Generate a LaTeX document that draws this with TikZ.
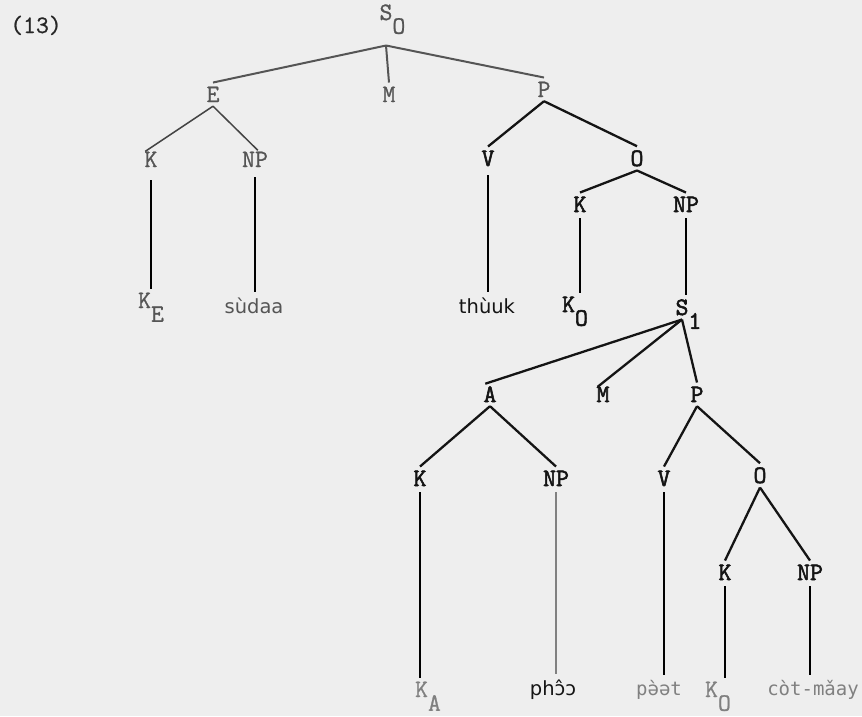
\documentclass[tikz,border=0pt]{standalone}
\usepackage{fontspec}
\newfontfamily\labfont{Latin Modern Mono}[FakeBold=0.9]
\newfontfamily\labbfont{Latin Modern Mono}[FakeBold=2.2]
\newfontfamily\wordfont{DejaVu Sans}
\newfontfamily\wordmono{DejaVu Sans Mono}
% subscript set at full size, dropped below the baseline
\newcommand\lowsub[1]{\raisebox{-0.55em}{#1}}
% same, but taking no room (the node keeps the size of the main letter)
\newcommand\lowsubr[1]{\rlap{\smash{\raisebox{-0.55em}{#1}}}}
\definecolor{paper}{HTML}{EEEEEE}
\definecolor{inkgrey}{HTML}{555555}
\definecolor{inkblack}{HTML}{141414}
\definecolor{inkpale}{HTML}{808080}
\tikzset{
  lab/.style={font={\fontsize{25pt}{27pt}\selectfont\labfont}, anchor=base,
    inner xsep=1pt, inner ysep=4pt},
  labg/.style={lab, text=inkgrey},
  labb/.style={lab, text=inkblack, font={\fontsize{25pt}{27pt}\selectfont\labbfont}},
  labp/.style={lab, text=inkpale},
  word/.style={font={\fontsize{19.5pt}{21pt}\selectfont\wordfont}, anchor=base,
    inner xsep=1pt, inner ysep=5pt},
  wordm/.style={font={\fontsize{19pt}{21pt}\selectfont\wordmono}, anchor=base,
    inner xsep=1pt, inner ysep=5pt},
  fang/.style={draw=inkgrey, line width=2pt},
  thing/.style={draw=inkgrey!80!black, line width=1.5pt},
  edgeb/.style={draw=inkblack, line width=2.3pt},
  stemb/.style={draw=black, line width=2.8pt, shorten <=2pt},
  stemg/.style={draw=inkpale, line width=1.6pt, shorten <=2pt},
}
\begin{document}
\begin{tikzpicture}[x=1pt,y=-1pt]
  \fill[paper] (0,0) rectangle (862,716);
  \useasboundingbox (0,0) rectangle (862,716);

  \node[lab, text=black!85] (num) at (36,33) {(13)};

  % main clause S0
  \node[labg] (So) at (386,20) {S\lowsubr{O}};
  \coordinate (So-j) at ([yshift=-21pt]So.south);
  \node[labg] (E) at (213,102) {E};
  \node[labg] (M) at (389,102) {M};
  \node[labg] (P) at (544,97) {P};

  \node[labg] (EK) at (151,167) {K};
  \node[labg] (ENP) at (255,167) {NP};
  \node[labg] (KE) at (151,308) {K\lowsub{E}};
  \node[word, text=inkgrey] (sudaa) at (254,313) {sùdaa};

  \node[labb] (PV) at (488,166) {V};
  \node[labb] (PO) at (637,166) {O};
  \node[word, text=inkblack] (thuuk) at (487,313) {thùuk};
  \node[labb] (OK) at (580,212) {K};
  \node[labb] (ONP) at (686,212) {NP};
  \node[labb] (KO) at (575,312) {K\lowsub{O}};
  \node[labb] (S1) at (682,315) {S\lowsubr{1}};

  % embedded clause S1
  \node[labb] (A) at (490,402) {A};
  \node[labb] (M2) at (603,402) {M};
  \node[labb] (P2) at (697,402) {P};
  \node[labb] (AK) at (420,486) {K};
  \node[labb] (ANP) at (556,486) {NP};
  \node[labb] (PV2) at (664,486) {V};
  \node[labb] (PO2) at (760,483) {O};
  \node[labb] (OK2) at (725,580) {K};
  \node[labb] (ONP2) at (810,580) {NP};

  \node[labp] (KA) at (428,697) {K\lowsub{A}};
  \node[word, text=inkblack] (pho) at (553,695) {phɔ^^^^0302ɔ};
  \node[wordm, text=inkpale] (paet) at (659,695) {pə^^^^0300ət};
  \node[labp] (KO2) at (718,697) {K\lowsub{O}};
  \node[wordm, text=inkpale] (cot) at (813,695) {còt-mǎay};

  % branches of S0
  \draw[fang] (So-j) -- (E.north);
  \draw[fang] (So-j) -- (M.north);
  \draw[fang] (So-j) -- (P.north);
  \draw[thing, shorten >=-7pt] (E.south) -- (EK.north);
  \draw[thing, shorten >=-4pt] (E.south) -- (ENP.north);
  \draw[stemb, shorten <=9pt] (EK.south) -- (EK.south |- KE.north);
  \draw[stemb, shorten <=6pt] (ENP.south) -- (ENP.south |- sudaa.north);
  \draw[edgeb] (P.south) -- (PV.north);
  \draw[edgeb] (P.south) -- (PO.north);
  \draw[stemb, shorten <=5pt] (PV.south) -- (PV.south |- thuuk.north);
  \draw[edgeb] (PO.south) -- (OK.north);
  \draw[edgeb] (PO.south) -- (ONP.north);
  \draw[stemb] (OK.south) -- (OK.south |- KO.north);
  \draw[stemb] (ONP.south) -- (ONP.south |- S1.north);

  % branches of S1
  \draw[edgeb, shorten >=-5pt] (S1.south) -- (A.north);
  \draw[edgeb, shorten >=-7pt] (S1.south) -- (M2.north);
  \draw[edgeb] (S1.south) -- (P2.north);
  \draw[edgeb] (A.south) -- (AK.north);
  \draw[edgeb] (A.south) -- (ANP.north);
  \draw[edgeb] (P2.south) -- (PV2.north);
  \draw[edgeb] (P2.south) -- (PO2.north);
  \draw[edgeb] (PO2.south) -- (OK2.north);
  \draw[edgeb] (PO2.south) -- (ONP2.north);
  \draw[stemb] (AK.south) -- (AK.south |- KA.north);
  \draw[stemg] (ANP.south) -- (ANP.south |- pho.north);
  \draw[stemb] (PV2.south) -- (PV2.south |- paet.north);
  \draw[stemb] (OK2.south) -- (OK2.south |- KO2.north);
  \draw[stemb] (ONP2.south) -- (ONP2.south |- cot.north);
\end{tikzpicture}
\end{document}
